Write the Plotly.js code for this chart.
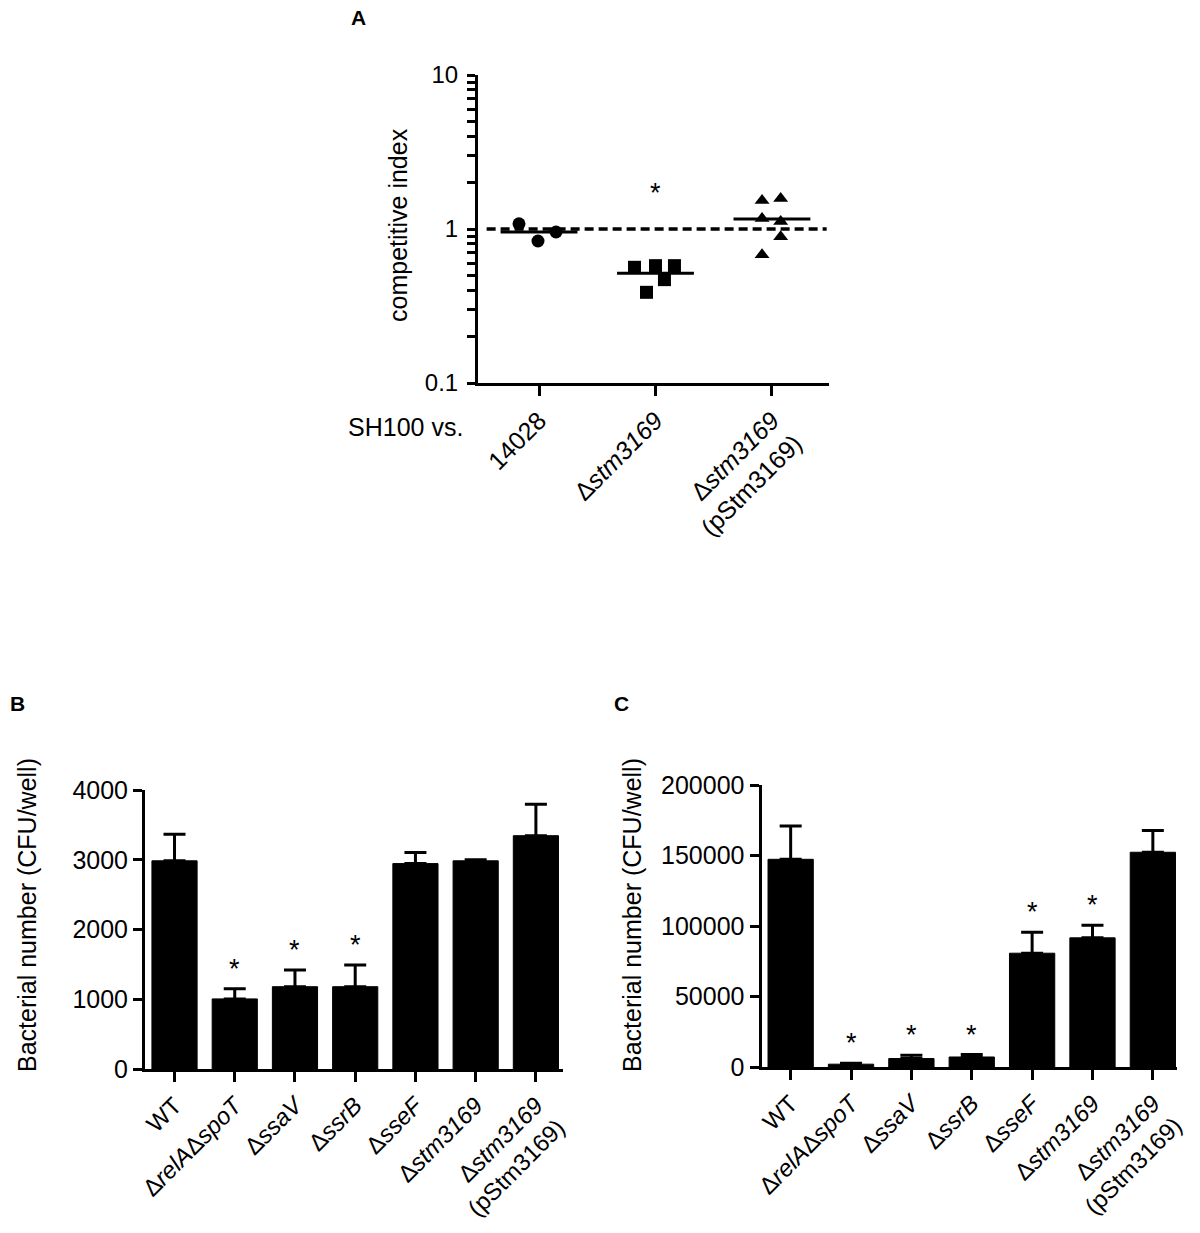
<!DOCTYPE html>
<html>
<head>
<meta charset="utf-8">
<script src="https://cdn.plot.ly/plotly-3.0.1.min.js"></script>
<style>
  html, body { margin: 0; padding: 0; background: #ffffff; }
  #chart { width: 1200px; height: 1233px; }
</style>
</head>
<body>
<div id="chart"></div>
<script>
// ---------------- DATA ----------------
// Panel A: competitive index (SH100 vs. ...)
const groupsA = ['14028', 'Δ<i>stm3169</i>', 'Δ<i>stm3169</i><br>(pStm3169)'];
const ci14028 = [1.08, 0.836, 0.956];
const ciStm3169 = [0.564, 0.578, 0.578, 0.469, 0.388];
const ciComplement = [1.53, 1.58, 1.17, 1.12, 0.89, 0.68];
const sigA = [false, true, false];
const yTickValsA = [0.1, 0.2, 0.3, 0.4, 0.5, 0.6, 0.7, 0.8, 0.9, 1, 2, 3, 4, 5, 6, 7, 8, 9, 10];
const yTickTextA = ['0.1', '', '', '', '', '', '', '', '', '1', '', '', '', '', '', '', '', '', '10'];

// Panels B and C: bacterial number (CFU/well)
const strains = ['WT', 'Δ<i>relA</i>Δ<i>spoT</i>', 'Δ<i>ssaV</i>', 'Δ<i>ssrB</i>', 'Δ<i>sseF</i>',
                 'Δ<i>stm3169</i>', 'Δ<i>stm3169</i><br>(pStm3169)'];
const cfuB = [2985, 1005, 1180, 1180, 2945, 2985, 3345];
const errB = [382, 147, 239, 310, 159, 15, 450];
const sigB = [false, true, true, true, false, false, false];
const cfuC = [147300, 2000, 6000, 7100, 80700, 91600, 152300];
const errC = [23600, 600, 2300, 1700, 14900, 9000, 15400];
const sigC = [false, true, true, true, true, true, false];

// ---------------- PRESENTATION ----------------
const FONT = 'Liberation Sans, Arial, Helvetica, sans-serif';
const W = 1200, H = 1233;
const px = v => v / W;           // horizontal pixel -> paper
const py = v => 1 - v / H;       // vertical pixel -> paper
// dot-plot horizontal spread (category units), like the scatter column layout
const spreadA = [
  [-0.172, -0.009, 0.146],
  [-0.18, 0, 0.163, 0.077, -0.077],
  [-0.085, 0.075, -0.085, 0.075, 0.075, -0.085]
];
const symbolsA = ['circle', 'square', 'triangle-up'];
const meanHalf = 0.33;

const mean = a => a.reduce((s, v) => s + v, 0) / a.length;
const seriesA = [ci14028, ciStm3169, ciComplement];

const traces = [];
// dashed reference line at competitive index = 1
traces.push({
  x: [-0.45, 2.47], y: [1, 1], xaxis: 'x', yaxis: 'y',
  mode: 'lines', line: {color: '#000', width: 3.5, dash: '9px,5px'},
  hoverinfo: 'skip', showlegend: false
});
seriesA.forEach((vals, g) => {
  traces.push({
    x: vals.map((v, i) => g + spreadA[g][i]), y: vals,
    xaxis: 'x', yaxis: 'y', mode: 'markers', type: 'scatter',
    marker: {symbol: symbolsA[g], size: 13, color: '#000', line: {width: 0}},
    showlegend: false
  });
  const m = mean(vals);
  traces.push({
    x: [g - meanHalf, g + meanHalf], y: [m, m], xaxis: 'x', yaxis: 'y',
    mode: 'lines', line: {color: '#000', width: 3}, showlegend: false, hoverinfo: 'skip'
  });
});

function barTrace(vals, errs, xa, ya) {
  return {
    type: 'bar', x: strains, y: vals, xaxis: xa, yaxis: ya, width: 0.75,
    marker: {color: '#000', line: {color: '#000', width: 1}},
    error_y: {type: 'data', symmetric: false, array: errs, arrayminus: errs.map(() => 0),
              color: '#000', thickness: 3, width: 11},
    showlegend: false
  };
}
traces.push(barTrace(cfuB, errB, 'x2', 'y2'));
traces.push(barTrace(cfuC, errC, 'x3', 'y3'));

const axisCommon = {
  showline: true, linecolor: '#000', linewidth: 3, mirror: false,
  ticks: 'outside', tickcolor: '#000', tickwidth: 3,
  showgrid: false, zeroline: false, fixedrange: true
};

const annotations = [];
const txt = (text, x, y, size, extra) => Object.assign({
  text: text, xref: 'paper', yref: 'paper', x: x, y: y, showarrow: false,
  font: {family: FONT, size: size, color: '#000'}, xanchor: 'center', yanchor: 'middle'
}, extra || {});

annotations.push(txt('<b>A</b>', px(358), py(18), 21));
annotations.push(txt('<b>B</b>', px(17), py(703), 21));
annotations.push(txt('<b>C</b>', px(621), py(703), 21));
annotations.push(txt('SH100 vs.', px(405), py(427), 25));
annotations.push(txt('competitive index', px(398), py(225), 25, {textangle: -90}));
annotations.push(txt('Bacterial number (CFU/well)', px(27), py(915), 25, {textangle: -90}));
annotations.push(txt('Bacterial number (CFU/well)', px(632), py(915), 25, {textangle: -90}));

// significance stars
seriesA.forEach((vals, g) => {
  if (sigA[g]) annotations.push({
    text: '*', x: g, y: Math.log10(Math.max(...vals)), xref: 'x', yref: 'y', yshift: 73,
    showarrow: false, font: {family: FONT, size: 27, color: '#000'}
  });
});
function stars(vals, errs, sig, xr, yr) {
  vals.forEach((v, i) => {
    if (sig[i]) annotations.push({
      text: '*', x: strains[i], y: v + errs[i], xref: xr, yref: yr, yshift: 20,
      showarrow: false, font: {family: FONT, size: 27, color: '#000'}
    });
  });
}
stars(cfuB, errB, sigB, 'x2', 'y2');
stars(cfuC, errC, sigC, 'x3', 'y3');

const layout = {
  width: W, height: H, autosize: false,
  margin: {l: 0, r: 0, t: 0, b: 0, pad: 0},
  paper_bgcolor: '#fff', plot_bgcolor: '#fff',
  font: {family: FONT, color: '#000'},
  showlegend: false,
  xaxis: Object.assign({}, axisCommon, {
    domain: [px(478), px(829)], range: [-0.524, 2.49], anchor: 'y',
    tickmode: 'array', tickvals: [0, 1, 2], ticktext: groupsA, tickangle: -45,
    ticklen: 10, tickfont: {family: FONT, size: 25, color: '#000'}
  }),
  yaxis: Object.assign({}, axisCommon, {
    domain: [py(383), py(75)], type: 'log', range: [-1, 1], anchor: 'x',
    tickmode: 'array', tickvals: yTickValsA, ticktext: yTickTextA,
    ticklen: 8, ticklabelstandoff: 4, tickfont: {family: FONT, size: 24, color: '#000'}
  }),
  xaxis2: Object.assign({}, axisCommon, {
    domain: [px(145), px(563)], type: 'category', range: [-0.49, 6.45], anchor: 'y2',
    tickangle: -45, ticklen: 10, tickfont: {family: FONT, size: 24, color: '#000'}
  }),
  yaxis2: Object.assign({}, axisCommon, {
    domain: [py(1069), py(790)], range: [0, 4000], dtick: 1000, tickformat: 'd', anchor: 'x2',
    ticklen: 9, tickfont: {family: FONT, size: 25, color: '#000'}
  }),
  xaxis3: Object.assign({}, axisCommon, {
    domain: [px(761.5), px(1177)], type: 'category', range: [-0.483, 6.4], anchor: 'y3',
    tickangle: -45, ticklen: 10, tickfont: {family: FONT, size: 24, color: '#000'}
  }),
  yaxis3: Object.assign({}, axisCommon, {
    domain: [py(1067), py(785)], range: [0, 200000], dtick: 50000, tickformat: 'd', anchor: 'x3',
    ticklen: 9, tickfont: {family: FONT, size: 25, color: '#000'}
  }),
  annotations: annotations
};

Plotly.newPlot('chart', traces, layout, {displayModeBar: false, staticPlot: true});
</script>
</body>
</html>
